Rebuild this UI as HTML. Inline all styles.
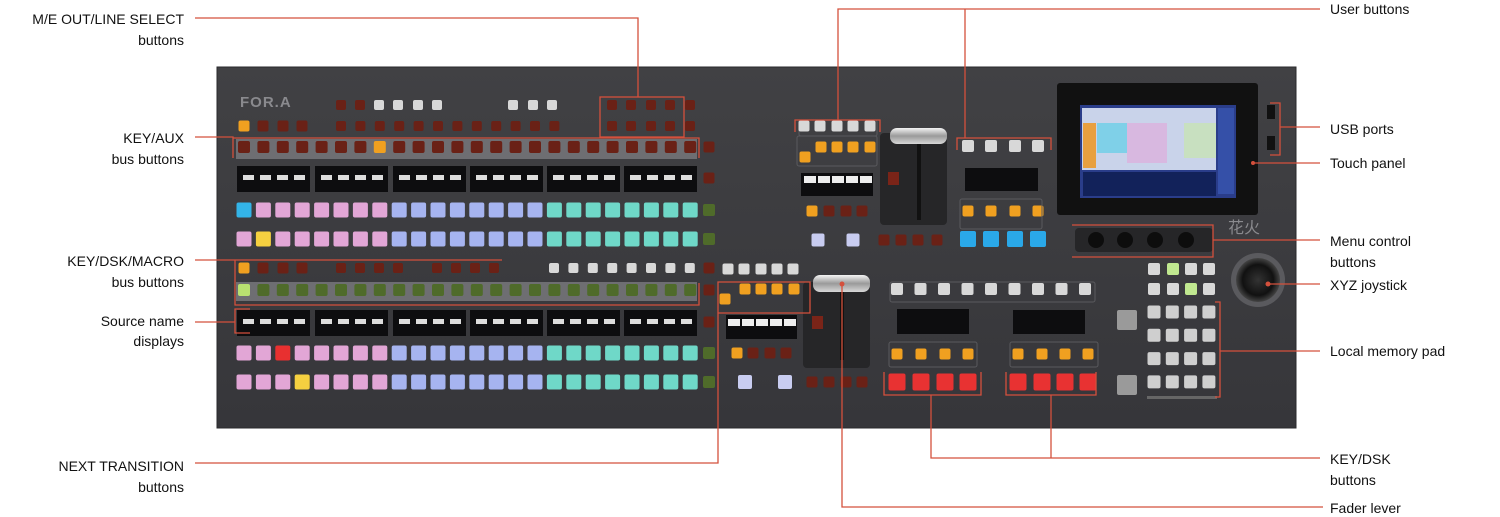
<!DOCTYPE html>
<html><head><meta charset="utf-8"><style>
html,body{margin:0;padding:0;background:#fff;}
svg{display:block;}
text.l{font-family:"Liberation Sans",sans-serif;font-size:14px;fill:#111;}
</style></head><body>
<svg id="s" width="1500" height="517" viewBox="0 0 1500 517" xmlns="http://www.w3.org/2000/svg">
<defs>
<linearGradient id="pan" x1="0" y1="0" x2="0" y2="1"><stop offset="0" stop-color="#414144"/><stop offset="1" stop-color="#36363a"/></linearGradient>
<linearGradient id="chr" x1="0" y1="0" x2="0" y2="1"><stop offset="0" stop-color="#f4f4f4"/><stop offset="0.5" stop-color="#9a9a9a"/><stop offset="1" stop-color="#d8d8d8"/></linearGradient>
<radialGradient id="joy"><stop offset="0" stop-color="#333"/><stop offset="0.7" stop-color="#111"/><stop offset="1" stop-color="#444"/></radialGradient>
</defs>
<rect x="217" y="67" width="1079" height="361" fill="url(#pan)" stroke="#2a2a2c"/>
<text x="240" y="107" font-family="Liberation Sans,sans-serif" font-size="15" font-weight="bold" fill="#8a8a8e" letter-spacing="1">FOR.A</text>
<rect x="236" y="139" width="461" height="20" fill="#6e6e72"/>
<rect x="236" y="282" width="461" height="19" fill="#6e6e72"/>
<g id="g"></g>
<!-- fader 1 -->
<rect x="880" y="133" width="67" height="92" rx="4" fill="#262628"/>
<rect x="917" y="140" width="4" height="80" fill="#111"/>
<rect x="890" y="128" width="57" height="16" rx="7" fill="url(#chr)"/>
<rect x="888" y="172" width="11" height="13" fill="#7a2418"/>
<!-- fader 2 -->
<rect x="803" y="282" width="67" height="86" rx="4" fill="#262628"/>
<rect x="840" y="290" width="4" height="70" fill="#111"/>
<rect x="813" y="275" width="57" height="17" rx="7" fill="url(#chr)"/>
<rect x="812" y="316" width="11" height="13" fill="#7a2418"/>
<!-- touch panel -->
<rect x="1057" y="83" width="201" height="132" rx="3" fill="#111"/>
<rect x="1080" y="105" width="156" height="93" fill="#2a3d8a"/>
<rect x="1082" y="108" width="134" height="62" fill="#c9d3ea"/>
<rect x="1083" y="123" width="13" height="45" fill="#e8a040"/>
<rect x="1097" y="123" width="30" height="30" fill="#7fd0e8"/>
<rect x="1127" y="123" width="40" height="40" fill="#d8b8e0"/>
<rect x="1184" y="123" width="32" height="35" fill="#c8e0c0"/>
<rect x="1083" y="172" width="133" height="24" fill="#12225a"/>
<rect x="1218" y="108" width="16" height="86" fill="#3550a8"/>
<rect x="1267" y="105" width="8" height="14" fill="#111"/><rect x="1267" y="136" width="8" height="14" fill="#111"/>
<!-- knobs -->
<rect x="1075" y="228" width="138" height="24" rx="4" fill="#262628"/>
<circle cx="1096" cy="240" r="8" fill="#0d0d0d"/><circle cx="1125" cy="240" r="8" fill="#0d0d0d"/><circle cx="1155" cy="240" r="8" fill="#0d0d0d"/><circle cx="1186" cy="240" r="8" fill="#0d0d0d"/>
<text x="1228" y="233" font-family="Liberation Serif,serif" font-size="16" fill="#8a8a8e">花火</text>
<!-- joystick -->
<circle cx="1258" cy="280" r="27" fill="#5a5a5e"/><circle cx="1258" cy="280" r="22" fill="url(#joy)"/>
<g stroke="#d4503c" stroke-width="1.3" fill="none">
<polyline points="195,18 638,18 638,97"/><rect x="600" y="97" width="84" height="40"/>
<polyline points="195,137 233,137 233,158"/><polyline points="233,138 699,138 699,158"/>
<polyline points="195,260 502,260"/><polyline points="235,260 235,305 699,305 699,283"/>
<polyline points="195,322 235,322"/><polyline points="250,309 235,309 235,333 250,333"/>
<polyline points="195,463 718,463 718,282 810,282 810,313 718,313"/>
<polyline points="1323,507 842,507 842,284"/>
<polyline points="1320,458 931,458 931,395"/><polyline points="1051,458 1051,395"/>
<polyline points="884,372 884,395 981,395 981,372"/><polyline points="1006,372 1006,395 1096,395 1096,372"/>
<polyline points="1320,9 838,9 838,120"/><polyline points="965,9 965,138"/>
<polyline points="795,132 795,120 880,120 880,132"/><polyline points="957,150 957,138 1051,138 1051,150"/>
<polyline points="1320,127 1280,127"/><polyline points="1270,103 1280,103 1280,155 1270,155"/>
<polyline points="1320,163 1253,163"/>
<polyline points="1320,240 1213,240"/><polyline points="1072,225 1213,225 1213,257 1072,257"/>
<polyline points="1320,284 1268,284"/>
<polyline points="1320,351 1220,351"/><polyline points="1215,302 1220,302 1220,397 1215,397"/>
</g>
<circle cx="842" cy="284" r="2.5" fill="#d4503c"/><circle cx="1253" cy="163" r="2" fill="#d4503c"/><circle cx="1268" cy="284" r="2.5" fill="#d4503c"/>
<g text-anchor="end">
<text class="l" x="184" y="24">M/E OUT/LINE SELECT</text><text class="l" x="184" y="45">buttons</text>
<text class="l" x="184" y="143">KEY/AUX</text><text class="l" x="184" y="164">bus buttons</text>
<text class="l" x="184" y="266">KEY/DSK/MACRO</text><text class="l" x="184" y="287">bus buttons</text>
<text class="l" x="184" y="326">Source name</text><text class="l" x="184" y="346">displays</text>
<text class="l" x="184" y="471">NEXT TRANSITION</text><text class="l" x="184" y="492">buttons</text>
</g>
<text class="l" x="1330" y="14">User buttons</text>
<text class="l" x="1330" y="134">USB ports</text>
<text class="l" x="1330" y="168">Touch panel</text>
<text class="l" x="1330" y="246">Menu control</text><text class="l" x="1330" y="267">buttons</text>
<text class="l" x="1330" y="290">XYZ joystick</text>
<text class="l" x="1330" y="356">Local memory pad</text>
<text class="l" x="1330" y="464">KEY/DSK</text><text class="l" x="1330" y="485">buttons</text>
<text class="l" x="1330" y="513">Fader lever</text>
</svg>
<script>
var g=document.getElementById('g'),NS='http://www.w3.org/2000/svg';
function r(x,y,w,h,f,rx){var e=document.createElementNS(NS,'rect');e.setAttribute('x',x);e.setAttribute('y',y);e.setAttribute('width',w);e.setAttribute('height',h);e.setAttribute('fill',f);if(rx)e.setAttribute('rx',rx);g.appendChild(e);}
function o(x,y,w,h){var e=document.createElementNS(NS,'rect');e.setAttribute('x',x);e.setAttribute('y',y);e.setAttribute('width',w);e.setAttribute('height',h);e.setAttribute('fill','none');e.setAttribute('stroke','#5a5a5e');e.setAttribute('rx',2);g.appendChild(e);}
function b(cx,cy,s,f){r(cx-s/2,cy-s/2,s,s,f,2);}
var RED='#6a2116',OR='#f0a020',WH='#d8d8d8',GR='#4f6b2a';
function src(y,hl){for(var i=0;i<24;i++){var c=i<8?'#e2a6d6':i<16?'#a6b4f0':'#6fd8c8';if(hl&&hl[i])c=hl[i];b(244+i*19.4,y,15,c);}b(709,y,12,GR);}
src(210,{0:'#33b4e8'});src(239,{1:'#f5d040'});src(353,{2:'#e83030'});src(382,{3:'#f5d040'});
for(var i=0;i<24;i++){b(244+i*19.4,147,12,i==7?OR:RED);b(244+i*19.4,290,12,i==0?'#b8e070':GR);}
[244,263,283,302].forEach(function(x,i){b(x,126,11,i==0?OR:RED);b(x,268,11,i==0?OR:RED);});
[341,360,379,398,418,437].forEach(function(x,i){b(x,105,10,i<2?RED:WH);});
for(i=0;i<12;i++)b(341+i*19.4,126,10,RED);
[513,533,552].forEach(function(x){b(x,105,10,WH);});
[612,631,651,670,690].forEach(function(x){b(x,105,10,RED);b(x,126,10,RED);});
[341,360,379,398,437,456,475,494].forEach(function(x){b(x,268,10,RED);});
for(i=0;i<8;i++)b(554+i*19.4,268,10,WH);
[147,178,268,290,322].forEach(function(y){b(709,y,11,RED);});
function disp(y){[237,315,393,470,547,624].forEach(function(x){r(x,y-12,73,26,'#0d0d0f');for(var k=0;k<4;k++)r(x+6+k*17,y-3,11,5,'#ddd');});}
disp(178);disp(322);
// center upper
o(799,120,78,16);
[804,820,837,853,870].forEach(function(x){b(x,126,11,WH);});
o(797,136,80,30);
[821,837,853,870].forEach(function(x){b(x,147,11,OR);});b(805,157,11,OR);
r(801,173,72,23,'#0d0d0f');for(i=0;i<5;i++)r(804+i*14,176,12,7,'#eee');
b(812,211,11,OR);[829,846,862].forEach(function(x){b(x,211,11,RED);});
b(818,240,13,'#c8ccf0');b(853,240,13,'#c8ccf0');
[884,901,918,937].forEach(function(x){b(x,240,11,RED);});
[968,991,1015,1038].forEach(function(x){b(x,146,12,WH);b(x,211,11,OR);b(x,239,16,'#2aa8e8');});
r(965,168,73,23,'#0d0d0f');
o(960,199,82,30);
// center lower
[728,744,761,777,793].forEach(function(x){b(x,269,11,WH);});
[745,761,777,794].forEach(function(x){b(x,289,11,OR);});b(725,299,11,OR);
r(726,315,71,24,'#0d0d0f');for(i=0;i<5;i++)r(728+i*14,319,12,7,'#eee');
b(737,353,11,OR);[753,770,786].forEach(function(x){b(x,353,11,RED);});
b(745,382,14,'#c8ccf0');b(785,382,14,'#c8ccf0');
[812,829,846,862].forEach(function(x){b(x,382,11,RED);});
o(890,282,205,20);for(i=0;i<9;i++)b(897+i*23.5,289,12,WH);
r(897,309,72,25,'#0d0d0f');r(1013,310,72,24,'#0d0d0f');
o(889,342,88,25);o(1010,342,88,25);
[897,921,945,968,1018,1042,1065,1088].forEach(function(x){b(x,354,11,OR);b(x,382,17,'#e83232');});
// right keypad
[1154,1173,1191,1209].forEach(function(x,i){b(x,269,12,i==1?'#c0e890':WH);b(x,289,12,i==2?'#c0e890':WH);});
for(var rr=0;rr<4;rr++)for(var c=0;c<4;c++)b(1154+c*18.3,312+rr*23.3,13,'#cfcfcf');
b(1127,320,20,'#9a9a9a');b(1127,385,20,'#9a9a9a');
r(1147,396,70,3,'#666');
</script>
</body></html>
